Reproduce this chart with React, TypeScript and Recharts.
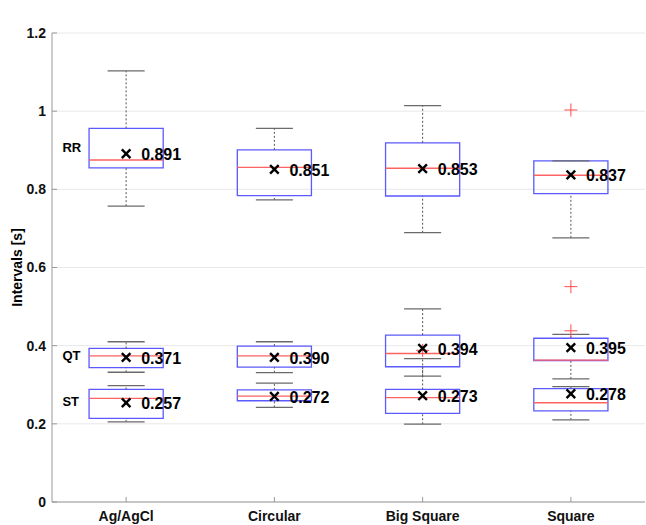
import React from 'react';
import {
  ComposedChart,
  XAxis,
  YAxis,
  CartesianGrid,
  ReferenceArea,
  ReferenceLine,
  Scatter,
  Label,
} from 'recharts';

const categories = ['Ag/AgCl', 'Circular', 'Big Square', 'Square'];
const yTicks = [0, 0.2, 0.4, 0.6, 0.8, 1, 1.2];
const groupNames = ['RR', 'QT', 'ST'];
const groupLabelValues = [0.908, 0.374, 0.258];

// RR
const rrLower = [0.757, 0.773, 0.689, 0.676];
const rrQ1 = [0.855, 0.784, 0.783, 0.789];
const rrMedian = [0.875, 0.856, 0.854, 0.836];
const rrQ3 = [0.956, 0.901, 0.919, 0.873];
const rrUpper = [1.103, 0.956, 1.014, 0.873];
const rrMean = [0.891, 0.851, 0.853, 0.837];
const rrMeanLabels = ['0.891', '0.851', '0.853', '0.837'];

// QT
const qtLower = [0.332, 0.331, 0.322, 0.315];
const qtQ1 = [0.344, 0.345, 0.346, 0.362];
const qtMedian = [0.374, 0.374, 0.38, 0.363];
const qtQ3 = [0.393, 0.399, 0.427, 0.419];
const qtUpper = [0.41, 0.41, 0.494, 0.429];
const qtMean = [0.37, 0.37, 0.393, 0.395];
const qtMeanLabels = ['0.371', '0.390', '0.394', '0.395'];

// ST
const stLower = [0.205, 0.242, 0.199, 0.21];
const stQ1 = [0.214, 0.259, 0.227, 0.233];
const stMedian = [0.265, 0.271, 0.267, 0.254];
const stQ3 = [0.288, 0.287, 0.288, 0.29];
const stUpper = [0.298, 0.304, 0.367, 0.295];
const stMean = [0.254, 0.27, 0.272, 0.277];
const stMeanLabels = ['0.257', '0.272', '0.273', '0.278'];

// Outliers (category index 1-based, value)
const outlierCategory = [3, 4, 4, 4];
const outlierValues = [0.388, 1.003, 0.551, 0.438];

const groups = [
  { name: 'RR', lower: rrLower, q1: rrQ1, median: rrMedian, q3: rrQ3, upper: rrUpper, mean: rrMean, labels: rrMeanLabels },
  { name: 'QT', lower: qtLower, q1: qtQ1, median: qtMedian, q3: qtQ3, upper: qtUpper, mean: qtMean, labels: qtMeanLabels },
  { name: 'ST', lower: stLower, q1: stQ1, median: stMedian, q3: stQ3, upper: stUpper, mean: stMean, labels: stMeanLabels },
];

const BOX_HALF = 0.25;
const CAP_HALF = 0.125;
const FONT = 'Liberation Sans, Arial, Helvetica, sans-serif';

const meanData = groups.flatMap((g) =>
  categories.map((_, i) => ({ x: i + 1, y: g.mean[i], label: g.labels[i] }))
);
const outlierData = outlierValues.map((v, i) => ({ x: outlierCategory[i], y: v }));
const groupLabelData = groupNames.map((n, i) => ({ x: 0.57, y: groupLabelValues[i], name: n }));

const MeanShape = (props: any) => {
  const { cx, cy, payload } = props;
  if (cx == null || cy == null) return null;
  const s = 4.3;
  return (
    <g>
      <line x1={cx - s} y1={cy - s} x2={cx + s} y2={cy + s} stroke="#000" strokeWidth={2.4} />
      <line x1={cx - s} y1={cy + s} x2={cx + s} y2={cy - s} stroke="#000" strokeWidth={2.4} />
      <text x={cx + 15} y={cy + 6.5} fontFamily={FONT} fontWeight="bold" fontSize={16} fill="#000">
        {payload.label}
      </text>
    </g>
  );
};

const OutlierShape = (props: any) => {
  const { cx, cy } = props;
  if (cx == null || cy == null) return null;
  const s = 6.5;
  return (
    <g>
      <line x1={cx - s} y1={cy} x2={cx + s} y2={cy} stroke="#ff4a4a" strokeWidth={1} />
      <line x1={cx} y1={cy - s} x2={cx} y2={cy + s} stroke="#ff4a4a" strokeWidth={1} />
    </g>
  );
};

const GroupLabelShape = (props: any) => {
  const { cx, cy, payload } = props;
  if (cx == null || cy == null) return null;
  return (
    <text x={cx} y={cy + 4.5} fontFamily={FONT} fontWeight="bold" fontSize={13} fill="#000">
      {payload.name}
    </text>
  );
};

const boxColor = '#5a5aff';
const medianColor = '#ff6262';
const whiskerColor = '#555';
const capColor = '#6a6a6a';

export default function App() {
  const elements: React.ReactNode[] = [];
  groups.forEach((g) => {
    categories.forEach((_, i) => {
      const c = i + 1;
      const k = `${g.name}-${i}`;
      elements.push(
        <ReferenceLine key={`wu-${k}`} segment={[{ x: c, y: g.q3[i] }, { x: c, y: g.upper[i] }]} stroke={whiskerColor} strokeDasharray="2 2" strokeWidth={1} />,
        <ReferenceLine key={`wl-${k}`} segment={[{ x: c, y: g.lower[i] }, { x: c, y: g.q1[i] }]} stroke={whiskerColor} strokeDasharray="2 2" strokeWidth={1} />,
        <ReferenceArea key={`box-${k}`} x1={c - BOX_HALF} x2={c + BOX_HALF} y1={g.q1[i]} y2={g.q3[i]} fill="none" fillOpacity={0} stroke={boxColor} strokeWidth={1.3} strokeOpacity={1} />,
        <ReferenceLine key={`med-${k}`} segment={[{ x: c - BOX_HALF, y: g.median[i] }, { x: c + BOX_HALF, y: g.median[i] }]} stroke={medianColor} strokeWidth={1.3} />,
        <ReferenceLine key={`cu-${k}`} segment={[{ x: c - CAP_HALF, y: g.upper[i] }, { x: c + CAP_HALF, y: g.upper[i] }]} stroke={capColor} strokeWidth={1.3} />,
        <ReferenceLine key={`cl-${k}`} segment={[{ x: c - CAP_HALF, y: g.lower[i] }, { x: c + CAP_HALF, y: g.lower[i] }]} stroke={capColor} strokeWidth={1.3} />
      );
    });
  });

  return (
    <div style={{ position: 'absolute', left: 0, top: 0, background: '#fff' }}>
      <ComposedChart width={646} height={525} margin={{ top: 33, right: 1, bottom: 0, left: 0 }}>
        <CartesianGrid vertical={false} stroke="#e8e8e8" />
        <XAxis
          dataKey="x"
          type="number"
          domain={[0.5, 4.5]}
          ticks={[1, 2, 3, 4]}
          tickFormatter={(v: number) => categories[v - 1] ?? ''}
          tickSize={-5}
          tickMargin={14}
          height={23}
          stroke="#999"
          tick={{ fill: '#111', fontFamily: FONT, fontWeight: 'bold', fontSize: 14 }}
          interval={0}
        />
        <XAxis
          xAxisId="top"
          orientation="top"
          type="number"
          domain={[0.5, 4.5]}
          ticks={[1, 2, 3, 4]}
          tick={false}
          tickSize={-5}
          height={0}
          stroke="#999"
        >
          <Label
            content={(p: any) => {
              const vb = p.viewBox || {};
              return (
                <text x={vb.x + vb.width / 2} y={vb.y - 9} textAnchor="middle" fontFamily={FONT} fontWeight="bold" fontSize={15} fill="#000">
                  RR, QT &amp; ST
                </text>
              );
            }}
          />
        </XAxis>
        <YAxis
          dataKey="y"
          type="number"
          domain={[0, 1.2]}
          ticks={yTicks}
          tickFormatter={(v: number) => String(Math.round(v * 10) / 10)}
          tickSize={-5}
          tickMargin={11}
          width={52}
          stroke="#999"
          tick={{ fill: '#111', fontFamily: FONT, fontWeight: 'bold', fontSize: 14 }}
          interval={0}
        >
          <Label
            content={(p: any) => {
              const vb = p.viewBox || {};
              const x = vb.x + 18;
              const y = vb.y + vb.height / 2;
              return (
                <text x={x} y={y} transform={`rotate(-90 ${x} ${y})`} textAnchor="middle" dominantBaseline="middle" fontFamily={FONT} fontWeight="bold" fontSize={14} fill="#000">
                  Intervals [s]
                </text>
              );
            }}
          />
        </YAxis>
        <YAxis
          yAxisId="right"
          orientation="right"
          type="number"
          domain={[0, 1.2]}
          ticks={yTicks}
          tick={false}
          tickSize={-5}
          width={0}
          stroke="#999"
        />
        {elements}
        <Scatter data={groupLabelData} shape={GroupLabelShape} isAnimationActive={false} />
        <Scatter data={outlierData} shape={OutlierShape} isAnimationActive={false} />
        <Scatter data={meanData} shape={MeanShape} isAnimationActive={false} />
      </ComposedChart>
    </div>
  );
}
